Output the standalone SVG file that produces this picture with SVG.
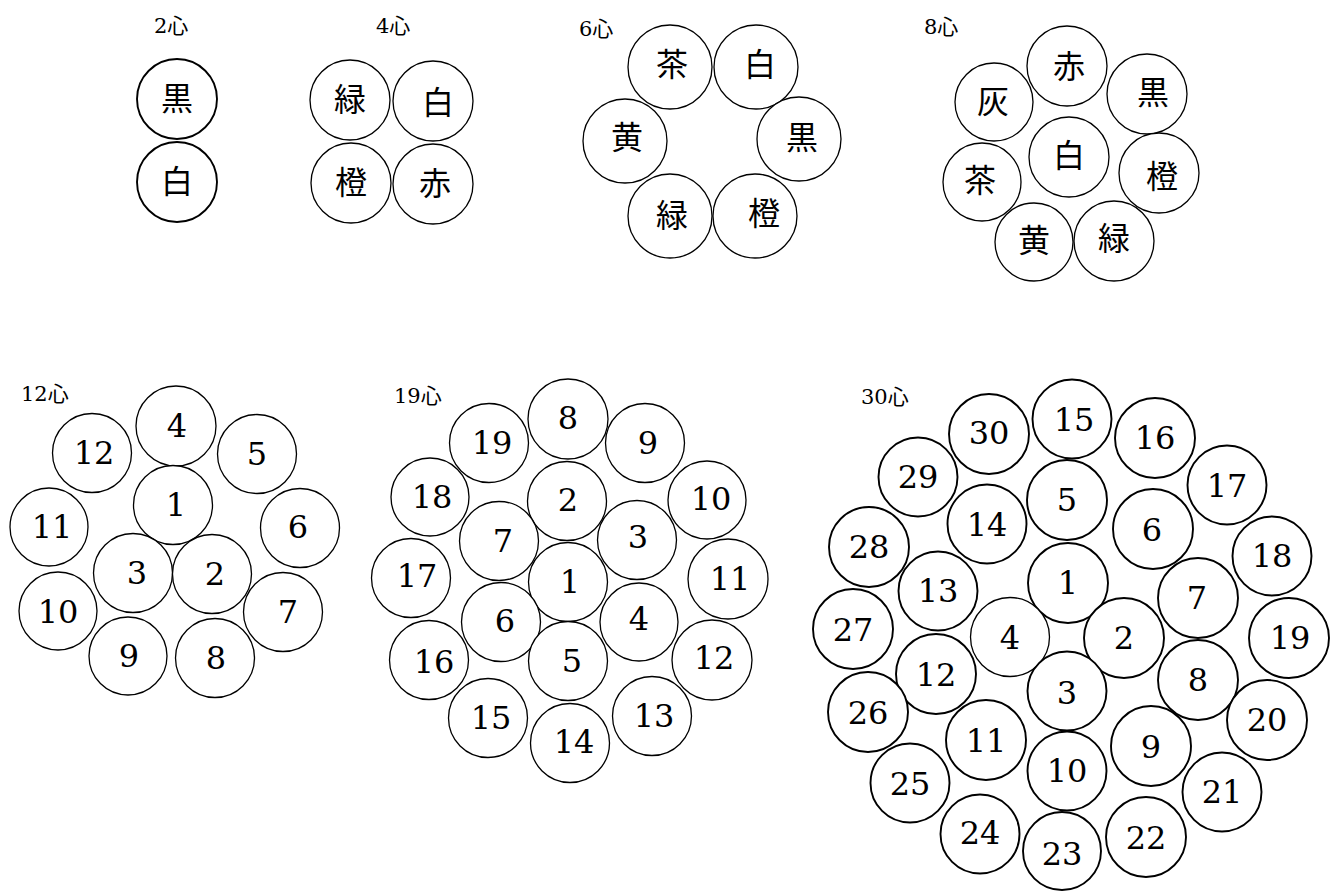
<svg xmlns="http://www.w3.org/2000/svg" width="1340" height="891" viewBox="0 0 1340 891">
<style>
  .c{fill:#fff;stroke:#000;stroke-width:1.3}
  .ct{stroke-width:1.9}
  .k{font-family:"Liberation Serif","Noto Sans CJK JP",serif;font-size:32px;text-anchor:middle;dominant-baseline:central;fill:#000}
  .n{font-family:"DejaVu Serif","Liberation Serif",serif;font-size:32px;text-anchor:middle;dominant-baseline:central;fill:#000}
  .t{font-family:"DejaVu Serif","Noto Sans CJK JP",serif;font-size:21px;fill:#000}
</style>
<rect width="1340" height="891" fill="#fff"/>

<g id="g2">
  <text class="t" x="154" y="33">2心</text>
  <g id="g2-1"><circle class="c ct" cx="177" cy="99" r="40"/><text class="k" x="177" y="99">黒</text></g>
  <g id="g2-2"><circle class="c ct" cx="177" cy="182" r="40"/><text class="k" x="177" y="182">白</text></g>
</g>

<g id="g4">
  <text class="t" x="376" y="33">4心</text>
  <g id="g4-1"><circle class="c" cx="350" cy="100" r="40"/><text class="k" x="350" y="100">緑</text></g>
  <g id="g4-2"><circle class="c" cx="433" cy="101" r="40"/><text class="k" x="438" y="103">白</text></g>
  <g id="g4-3"><circle class="c" cx="351" cy="183" r="40"/><text class="k" x="351" y="183">橙</text></g>
  <g id="g4-4"><circle class="c" cx="433" cy="184" r="40"/><text class="k" x="435" y="184">赤</text></g>
</g>

<g id="g6">
  <text class="t" x="579" y="36">6心</text>
  <g id="g6-1"><circle class="c" cx="670" cy="67" r="42"/><text class="k" x="672" y="65">茶</text></g>
  <g id="g6-2"><circle class="c" cx="756" cy="67" r="42"/><text class="k" x="760" y="65">白</text></g>
  <g id="g6-3"><circle class="c" cx="625" cy="141" r="42"/><text class="k" x="627" y="138">黄</text></g>
  <g id="g6-4"><circle class="c" cx="799" cy="139" r="42"/><text class="k" x="802" y="138">黒</text></g>
  <g id="g6-5"><circle class="c" cx="670" cy="216" r="42"/><text class="k" x="672" y="216">緑</text></g>
  <g id="g6-6"><circle class="c" cx="755" cy="216" r="42"/><text class="k" x="764" y="214">橙</text></g>
</g>

<g id="g8">
  <text class="t" x="924" y="34">8心</text>
  <g id="g8-1"><circle class="c" cx="1067" cy="66" r="40"/><text class="k" x="1069" y="67">赤</text></g>
  <g id="g8-2"><circle class="c" cx="1147" cy="94" r="40"/><text class="k" x="1153" y="93">黒</text></g>
  <g id="g8-3"><circle class="c" cx="994" cy="102" r="39"/><text class="k" x="993" y="102">灰</text></g>
  <g id="g8-4"><circle class="c" cx="1069" cy="157" r="40"/><text class="k" x="1069" y="156">白</text></g>
  <g id="g8-5"><circle class="c" cx="982" cy="182" r="39"/><text class="k" x="980" y="181">茶</text></g>
  <g id="g8-6"><circle class="c" cx="1159" cy="173" r="40"/><text class="k" x="1162" y="177">橙</text></g>
  <g id="g8-7"><circle class="c" cx="1034" cy="242" r="39"/><text class="k" x="1034" y="241">黄</text></g>
  <g id="g8-8"><circle class="c" cx="1114" cy="241" r="40"/><text class="k" x="1114" y="239">緑</text></g>
</g>

<g id="g12">
  <text class="t" x="21" y="401">12心</text>
  <g id="g12-4"><circle class="c" cx="176" cy="426" r="40"/><text class="n" x="177" y="426">4</text></g>
  <g id="g12-12"><circle class="c" cx="92" cy="453" r="39.5"/><text class="n" x="94" y="453">12</text></g>
  <g id="g12-5"><circle class="c" cx="257" cy="454" r="39.5"/><text class="n" x="257" y="454">5</text></g>
  <g id="g12-1"><circle class="c" cx="173" cy="505" r="39.5"/><text class="n" x="176" y="505">1</text></g>
  <g id="g12-11"><circle class="c" cx="49" cy="527" r="39"/><text class="n" x="52" y="527">11</text></g>
  <g id="g12-6"><circle class="c" cx="300" cy="528" r="39.5"/><text class="n" x="298" y="527">6</text></g>
  <g id="g12-3"><circle class="c" cx="133" cy="573" r="39.5"/><text class="n" x="137" y="573">3</text></g>
  <g id="g12-2"><circle class="c" cx="212" cy="574" r="39.5"/><text class="n" x="215" y="574">2</text></g>
  <g id="g12-10"><circle class="c" cx="58" cy="611" r="39"/><text class="n" x="58" y="612">10</text></g>
  <g id="g12-7"><circle class="c" cx="283" cy="612" r="39.5"/><text class="n" x="288" y="612">7</text></g>
  <g id="g12-9"><circle class="c" cx="128" cy="656" r="39"/><text class="n" x="129" y="656">9</text></g>
  <g id="g12-8"><circle class="c" cx="215" cy="658" r="39.5"/><text class="n" x="216" y="658">8</text></g>
</g>

<g id="g19">
  <text class="t" x="394" y="403">19心</text>
  <g id="g19-8"><circle class="c" cx="568" cy="419" r="40"/><text class="n" x="568" y="418">8</text></g>
  <g id="g19-19"><circle class="c" cx="489" cy="443" r="39.5"/><text class="n" x="492" y="443">19</text></g>
  <g id="g19-9"><circle class="c" cx="645" cy="443" r="39.5"/><text class="n" x="648" y="443">9</text></g>
  <g id="g19-18"><circle class="c" cx="430" cy="497" r="39"/><text class="n" x="432" y="497">18</text></g>
  <g id="g19-2"><circle class="c" cx="567" cy="501" r="39.5"/><text class="n" x="568" y="500">2</text></g>
  <g id="g19-10"><circle class="c" cx="707" cy="500" r="39"/><text class="n" x="711" y="499">10</text></g>
  <g id="g19-7"><circle class="c" cx="499" cy="541" r="39.5"/><text class="n" x="503" y="541">7</text></g>
  <g id="g19-3"><circle class="c" cx="637" cy="540" r="39.5"/><text class="n" x="638" y="537">3</text></g>
  <g id="g19-17"><circle class="c" cx="411" cy="578" r="39.5"/><text class="n" x="417" y="576">17</text></g>
  <g id="g19-1"><circle class="c" cx="568" cy="582" r="39.5"/><text class="n" x="570" y="582">1</text></g>
  <g id="g19-11"><circle class="c" cx="728" cy="579" r="40"/><text class="n" x="730" y="579">11</text></g>
  <g id="g19-6"><circle class="c" cx="501" cy="622" r="39.5"/><text class="n" x="505" y="621">6</text></g>
  <g id="g19-4"><circle class="c" cx="639" cy="622" r="39"/><text class="n" x="639" y="619">4</text></g>
  <g id="g19-16"><circle class="c" cx="429" cy="660" r="39.5"/><text class="n" x="434" y="662">16</text></g>
  <g id="g19-5"><circle class="c" cx="568" cy="661" r="39.5"/><text class="n" x="572" y="661">5</text></g>
  <g id="g19-12"><circle class="c" cx="712" cy="660" r="40"/><text class="n" x="714" y="658">12</text></g>
  <g id="g19-15"><circle class="c" cx="488" cy="718" r="39.5"/><text class="n" x="491" y="718">15</text></g>
  <g id="g19-13"><circle class="c" cx="652" cy="716" r="39.5"/><text class="n" x="654" y="716">13</text></g>
  <g id="g19-14"><circle class="c" cx="570" cy="743" r="39.5"/><text class="n" x="574" y="742">14</text></g>
</g>

<g id="g30">
  <text class="t" x="861" y="404">30心</text>
  <g id="g30-30"><circle class="c ct" cx="989" cy="434" r="40"/><text class="n" x="989" y="433">30</text></g>
  <g id="g30-15"><circle class="c ct" cx="1072" cy="419" r="39.5"/><text class="n" x="1074" y="420">15</text></g>
  <g id="g30-16"><circle class="c ct" cx="1155" cy="438" r="40"/><text class="n" x="1155" y="438">16</text></g>
  <g id="g30-29"><circle class="c ct" cx="918" cy="477" r="39.5"/><text class="n" x="918" y="477">29</text></g>
  <g id="g30-17"><circle class="c ct" cx="1227" cy="485" r="39.5"/><text class="n" x="1227" y="486">17</text></g>
  <g id="g30-5"><circle class="c ct" cx="1067" cy="500" r="40"/><text class="n" x="1067" y="500">5</text></g>
  <g id="g30-14"><circle class="c ct" cx="987" cy="524" r="39.5"/><text class="n" x="987" y="525">14</text></g>
  <g id="g30-6"><circle class="c ct" cx="1153" cy="529" r="40"/><text class="n" x="1152" y="530">6</text></g>
  <g id="g30-28"><circle class="c ct" cx="869" cy="547" r="40"/><text class="n" x="869" y="547">28</text></g>
  <g id="g30-18"><circle class="c ct" cx="1272" cy="556" r="39.5"/><text class="n" x="1272" y="556">18</text></g>
  <g id="g30-1"><circle class="c ct" cx="1068" cy="583" r="40"/><text class="n" x="1068" y="583">1</text></g>
  <g id="g30-13"><circle class="c ct" cx="938" cy="591" r="39.5"/><text class="n" x="938" y="591">13</text></g>
  <g id="g30-7"><circle class="c ct" cx="1198" cy="598" r="40"/><text class="n" x="1197" y="598">7</text></g>
  <g id="g30-27"><circle class="c ct" cx="853" cy="629" r="40"/><text class="n" x="853" y="630">27</text></g>
  <g id="g30-4"><circle class="c" cx="1010" cy="637" r="39.5"/><text class="n" x="1010" y="638">4</text></g>
  <g id="g30-2"><circle class="c ct" cx="1124" cy="638" r="40"/><text class="n" x="1124" y="638">2</text></g>
  <g id="g30-19"><circle class="c ct" cx="1289" cy="638" r="40"/><text class="n" x="1290" y="638">19</text></g>
  <g id="g30-12"><circle class="c ct" cx="936" cy="674" r="40"/><text class="n" x="936" y="675">12</text></g>
  <g id="g30-8"><circle class="c ct" cx="1198" cy="680" r="40"/><text class="n" x="1198" y="680">8</text></g>
  <g id="g30-3"><circle class="c ct" cx="1067" cy="691" r="39.5"/><text class="n" x="1067" y="693">3</text></g>
  <g id="g30-26"><circle class="c ct" cx="868" cy="712" r="40"/><text class="n" x="868" y="713">26</text></g>
  <g id="g30-20"><circle class="c ct" cx="1267" cy="720" r="40"/><text class="n" x="1267" y="720">20</text></g>
  <g id="g30-11"><circle class="c ct" cx="986" cy="740" r="40"/><text class="n" x="986" y="741">11</text></g>
  <g id="g30-9"><circle class="c ct" cx="1151" cy="746" r="40"/><text class="n" x="1151" y="747">9</text></g>
  <g id="g30-10"><circle class="c ct" cx="1067" cy="771" r="39.5"/><text class="n" x="1067" y="771">10</text></g>
  <g id="g30-25"><circle class="c ct" cx="910" cy="783" r="39.5"/><text class="n" x="910" y="784">25</text></g>
  <g id="g30-21"><circle class="c ct" cx="1222" cy="792" r="39.5"/><text class="n" x="1222" y="792">21</text></g>
  <g id="g30-24"><circle class="c ct" cx="980" cy="834" r="39.5"/><text class="n" x="980" y="833">24</text></g>
  <g id="g30-22"><circle class="c ct" cx="1146" cy="837" r="40"/><text class="n" x="1146" y="838">22</text></g>
  <g id="g30-23"><circle class="c ct" cx="1062" cy="851" r="39"/><text class="n" x="1062" y="854">23</text></g>
</g>
</svg>
